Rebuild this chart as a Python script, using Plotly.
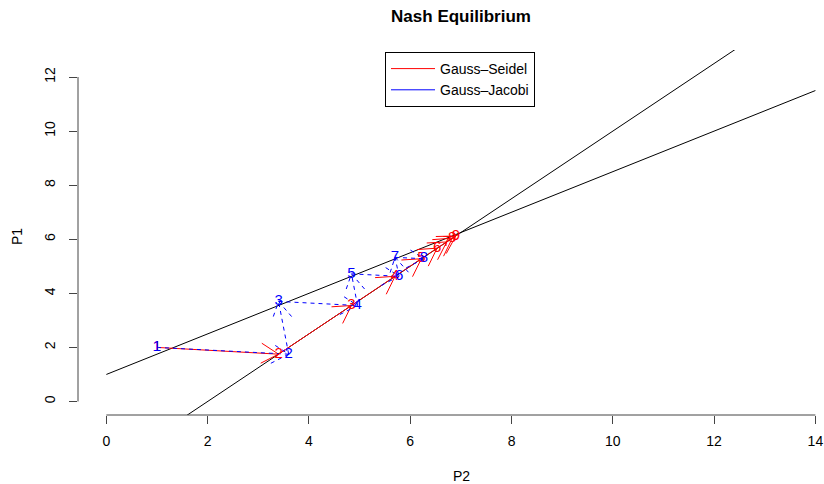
import math
import plotly.graph_objects as go

# ---- data ----
line_p2 = [0, 14]
br1_p1 = [1.0, 11.5]      # P1 reaction line
br2_p1 = [-2.5, 15.0]     # P2 reaction line (expressed as P1)

gs_p2 = [1.0, 3.4, 4.84, 5.70, 6.22, 6.53, 6.72, 6.83, 6.90]
gs_p1 = [2.0, 1.75, 3.55, 4.63, 5.28, 5.67, 5.90, 6.04, 6.12]
gj_p2 = [1.0, 3.6, 3.4, 4.96, 4.84, 5.78, 5.70, 6.27]
gj_p1 = [2.0, 1.75, 3.70, 3.55, 4.72, 4.63, 5.33, 5.28]

x_ticks = [0, 2, 4, 6, 8, 10, 12, 14]
y_ticks = [0, 2, 4, 6, 8, 10, 12]

# ---- layout geometry ----
W, H = 824, 484
ML, MR, MT, MB = 78, 0, 50, 69
XR = [-0.56, 14.17]
YR = [-0.5, 13.0]
pw, ph = W - ML - MR, H - MT - MB
sx = pw / (XR[1] - XR[0])
sy = ph / (YR[1] - YR[0])

FONT = "Liberation Sans, Arial, Helvetica, sans-serif"
HEAD = 20.0
ANG = math.radians(30)


def arrow_path(xs, ys):
    px, py = [], []
    for i in range(len(xs) - 1):
        x0, y0, x1, y1 = xs[i], ys[i], xs[i + 1], ys[i + 1]
        px += [x0, x1, None]
        py += [y0, y1, None]
        dx = (x1 - x0) * sx
        dy = (y1 - y0) * sy
        th = math.atan2(dy, dx)
        wings = []
        for s in (1, -1):
            a = th + math.pi + s * ANG
            wings.append((x1 + HEAD * math.cos(a) / sx, y1 + HEAD * math.sin(a) / sy))
        px += [wings[0][0], x1, wings[1][0], None]
        py += [wings[0][1], y1, wings[1][1], None]
    return px, py


fig = go.Figure()

fig.add_trace(go.Scatter(x=line_p2, y=br1_p1, mode="lines",
                         line=dict(color="black", width=1), showlegend=False, hoverinfo="skip"))
fig.add_trace(go.Scatter(x=line_p2, y=br2_p1, mode="lines",
                         line=dict(color="black", width=1), showlegend=False, hoverinfo="skip"))

gx, gy = arrow_path(gs_p2, gs_p1)
fig.add_trace(go.Scatter(x=gx, y=gy, mode="lines", name="Gauss\u2013Seidel", showlegend=False,
                         line=dict(color="#FF0000", width=1)))
jx, jy = arrow_path(gj_p2, gj_p1)
fig.add_trace(go.Scatter(x=jx, y=jy, mode="lines", name="Gauss\u2013Jacobi", showlegend=False,
                         line=dict(color="#0000FF", width=1, dash="4px,4px")))

# legend entries (solid samples, as in the reference legend)
fig.add_trace(go.Scatter(x=[None], y=[None], mode="lines", name="Gauss\u2013Seidel",
                         line=dict(color="#FF0000", width=1)))
fig.add_trace(go.Scatter(x=[None], y=[None], mode="lines", name="Gauss\u2013Jacobi",
                         line=dict(color="#0000FF", width=1)))

fig.add_trace(go.Scatter(x=gs_p2, y=gs_p1, mode="text",
                         text=[str(i + 1) for i in range(len(gs_p2))],
                         textfont=dict(color="#FF0000", size=15, family=FONT),
                         showlegend=False, hoverinfo="skip", cliponaxis=False))
fig.add_trace(go.Scatter(x=gj_p2, y=gj_p1, mode="text",
                         text=[str(i + 1) for i in range(len(gj_p2))],
                         textfont=dict(color="#0000FF", size=15, family=FONT),
                         showlegend=False, hoverinfo="skip", cliponaxis=False))

AX = "#444444"
fig.add_shape(type="line", xref="x", yref="paper", x0=x_ticks[0], x1=x_ticks[-1], y0=0, y1=0,
              line=dict(color=AX, width=1))
fig.add_shape(type="line", xref="paper", yref="y", x0=0, x1=0, y0=y_ticks[0], y1=y_ticks[-1],
              line=dict(color=AX, width=1))

fig.add_annotation(text="P2", xref="paper", yref="paper",
                   x=(461 - ML) / pw, y=-(476 - (H - MB)) / ph, showarrow=False,
                   xanchor="center", yanchor="middle", font=dict(size=14, family=FONT, color="black"))
fig.add_annotation(text="P1", xref="paper", yref="paper",
                   x=(17 - ML) / pw, y=((H - MB) - 237) / ph, showarrow=False, textangle=-90,
                   xanchor="center", yanchor="middle", font=dict(size=14, family=FONT, color="black"))

fig.update_layout(
    width=W, height=H,
    margin=dict(l=ML, r=MR, t=MT, b=MB, pad=0),
    paper_bgcolor="white", plot_bgcolor="white",
    title=dict(text="<b>Nash Equilibrium</b>", x=461 / W, xanchor="center",
               y=1 - 16 / H, yanchor="middle", yref="container",
               font=dict(size=17, family=FONT, color="black")),
    xaxis=dict(range=XR, tickvals=x_ticks, ticks="outside", ticklen=8, tickcolor=AX,
               showgrid=False, zeroline=False, showline=False, ticklabelstandoff=5,
               tickfont=dict(size=14, family=FONT, color="black")),
    yaxis=dict(range=YR, tickvals=y_ticks, ticks="outside", ticklen=8, tickcolor=AX,
               tickangle=-90, showgrid=False, zeroline=False, showline=False,
               ticklabelstandoff=8,
               tickfont=dict(size=14, family=FONT, color="black")),
    legend=dict(x=(385 - ML) / pw, y=(H - MB - 52) / ph, xanchor="left", yanchor="top",
                bordercolor="black", borderwidth=1, bgcolor="white", itemwidth=44,
                font=dict(size=14, family=FONT, color="black"), tracegroupgap=0),
    showlegend=True,
)

fig.write_html("out.html")
